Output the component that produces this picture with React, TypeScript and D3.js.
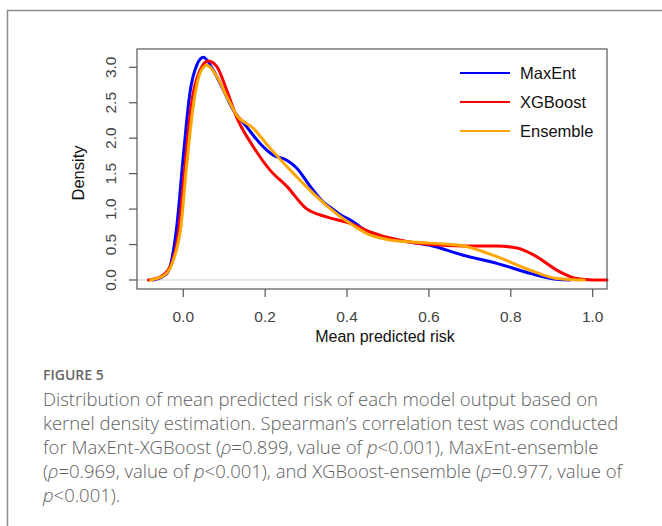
import React from "react";
import * as d3 from "d3";

// Kernel density curves: [mean predicted risk, density]
const maxEnt: [number, number][] = [
  [-0.073, 0], [-0.04, 0.09], [-0.016, 0.75], [0.0, 1.74], [0.016, 2.63], [0.033, 3.03],
  [0.049, 3.14], [0.073, 2.96], [0.098, 2.68], [0.122, 2.4], [0.155, 2.16], [0.187, 1.93],
  [0.22, 1.76], [0.253, 1.69], [0.277, 1.58], [0.31, 1.32], [0.342, 1.1], [0.358, 1.03],
  [0.39, 0.9], [0.407, 0.85], [0.456, 0.66], [0.521, 0.565], [0.603, 0.49], [0.684, 0.35],
  [0.766, 0.235], [0.847, 0.094], [0.912, 0.01], [0.945, 0],
];
const xgBoost: [number, number][] = [
  [-0.085, 0], [-0.057, 0.04], [-0.032, 0.19], [-0.012, 0.66], [0.004, 1.6], [0.02, 2.49],
  [0.041, 2.96], [0.061, 3.09], [0.082, 3.01], [0.106, 2.68], [0.13, 2.3], [0.171, 1.88],
  [0.212, 1.55], [0.253, 1.32], [0.3, 1.01], [0.35, 0.89], [0.407, 0.8], [0.456, 0.68],
  [0.521, 0.57], [0.603, 0.5], [0.684, 0.48], [0.766, 0.48], [0.815, 0.45], [0.863, 0.33],
  [0.912, 0.14], [0.961, 0.02], [1.0, 0], [1.035, 0],
];
const ensemble: [number, number][] = [
  [-0.08, 0], [-0.045, 0.07], [-0.008, 0.66], [0.008, 1.6], [0.024, 2.44], [0.041, 2.92],
  [0.057, 3.03], [0.082, 2.87], [0.106, 2.59], [0.13, 2.33], [0.171, 2.14], [0.212, 1.86],
  [0.253, 1.6], [0.3, 1.32], [0.35, 1.05], [0.407, 0.8], [0.456, 0.635], [0.505, 0.565],
  [0.603, 0.52], [0.684, 0.48], [0.766, 0.33], [0.847, 0.14], [0.912, 0.02], [0.97, 0],
  [0.98, 0],
];

const xTicks = [0, 0.2, 0.4, 0.6, 0.8, 1.0];
const yTicks = [0, 0.5, 1.0, 1.5, 2.0, 2.5, 3.0];

const series = [
  { name: "MaxEnt", color: "#0000ff", data: maxEnt },
  { name: "XGBoost", color: "#ff0000", data: xgBoost },
  { name: "Ensemble", color: "#ffa500", data: ensemble },
];

const chartFont = "'Liberation Sans', Arial, sans-serif";
const captionFont = "'Open Sans', 'Noto Sans', sans-serif";
const captionColor = "#5e5e5e";

export default function App() {
  const box = { left: 137, right: 607, top: 49, bottom: 289 };

  const x = d3.scaleLinear().domain([-0.113, 1.035]).range([box.left, box.right]);
  const y = d3.scaleLinear().domain([-0.127, 3.258]).range([box.bottom, box.top]);

  const line = d3
    .line<[number, number]>()
    .x((d) => x(d[0]))
    .y((d) => y(d[1]))
    .curve(d3.curveMonotoneX);

  const captionLines: React.ReactNode[] = [
    <>Distribution of mean predicted risk of each model output based on</>,
    <>kernel density estimation. Spearman’s correlation test was conducted</>,
    <>
      for MaxEnt-XGBoost (<tspan fontStyle="italic">ρ</tspan>=0.899, value of{" "}
      <tspan fontStyle="italic">p</tspan>&lt;0.001), MaxEnt-ensemble
    </>,
    <>
      (<tspan fontStyle="italic">ρ</tspan>=0.969, value of <tspan fontStyle="italic">p</tspan>
      &lt;0.001), and XGBoost-ensemble (<tspan fontStyle="italic">ρ</tspan>=0.977, value of
    </>,
    <>
      <tspan fontStyle="italic">p</tspan>&lt;0.001).
    </>,
  ];

  return (
    <div style={{ position: "absolute", left: 0, top: 0 }}>
      <svg width={662} height={526} style={{ display: "block", background: "#fff" }}>
        {/* outer figure frame */}
        <path d="M7.5,526 V10.5 H662" fill="none" stroke="#8c8c8c" strokeWidth={1.5} />

        {/* zero line */}
        <line x1={box.left} x2={box.right} y1={y(0)} y2={y(0)} stroke="#cfcfcf" strokeWidth={1} />

        {/* curves */}
        {series.map((s) => (
          <path
            key={s.name}
            d={line(s.data) || ""}
            fill="none"
            stroke={s.color}
            strokeWidth={3}
            strokeLinejoin="round"
            strokeLinecap="round"
          />
        ))}

        {/* plot box */}
        <rect
          x={box.left}
          y={box.top}
          width={box.right - box.left}
          height={box.bottom - box.top}
          fill="none"
          stroke="#555"
          strokeWidth={1.2}
        />

        {/* x axis */}
        <g fontFamily={chartFont} fontSize={15.5} fill="#444">
          {xTicks.map((t) => (
            <g key={t}>
              <line x1={x(t)} x2={x(t)} y1={box.bottom} y2={box.bottom + 8} stroke="#555" strokeWidth={1.2} />
              <text x={x(t)} y={322} textAnchor="middle">
                {t.toFixed(1)}
              </text>
            </g>
          ))}
        </g>
        <text x={385} y={342} textAnchor="middle" fontFamily={chartFont} fontSize={16} fill="#111">
          Mean predicted risk
        </text>

        {/* y axis */}
        <g fontFamily={chartFont} fontSize={15.5} fill="#444">
          {yTicks.map((t) => (
            <g key={t}>
              <line x1={box.left - 8} x2={box.left} y1={y(t)} y2={y(t)} stroke="#555" strokeWidth={1.2} />
              <text transform={`translate(116,${y(t)}) rotate(-90)`} textAnchor="middle">
                {t.toFixed(1)}
              </text>
            </g>
          ))}
        </g>
        <text
          transform={`translate(84,173) rotate(-90)`}
          textAnchor="middle"
          fontFamily={chartFont}
          fontSize={16.5}
          fill="#111"
        >
          Density
        </text>

        {/* legend */}
        <g fontFamily={chartFont} fontSize={16.5} fill="#111">
          {series.map((s, i) => {
            const ly = 73 + i * 29;
            return (
              <g key={s.name}>
                <line x1={460} x2={510} y1={ly} y2={ly} stroke={s.color} strokeWidth={2} />
                <text x={520} y={ly + 6}>
                  {s.name}
                </text>
              </g>
            );
          })}
        </g>

        {/* caption */}
        <text x={43} y={380} fontFamily={captionFont} fontWeight={600} fontSize={14} fill="#666">
          FIGURE 5
        </text>
        <g fontFamily={captionFont} fontSize={18.5} fontWeight={300} fill={captionColor}>
          {captionLines.map((c, i) => (
            <text key={i} x={43} y={406 + i * 24}>
              {c}
            </text>
          ))}
        </g>
      </svg>
    </div>
  );
}
